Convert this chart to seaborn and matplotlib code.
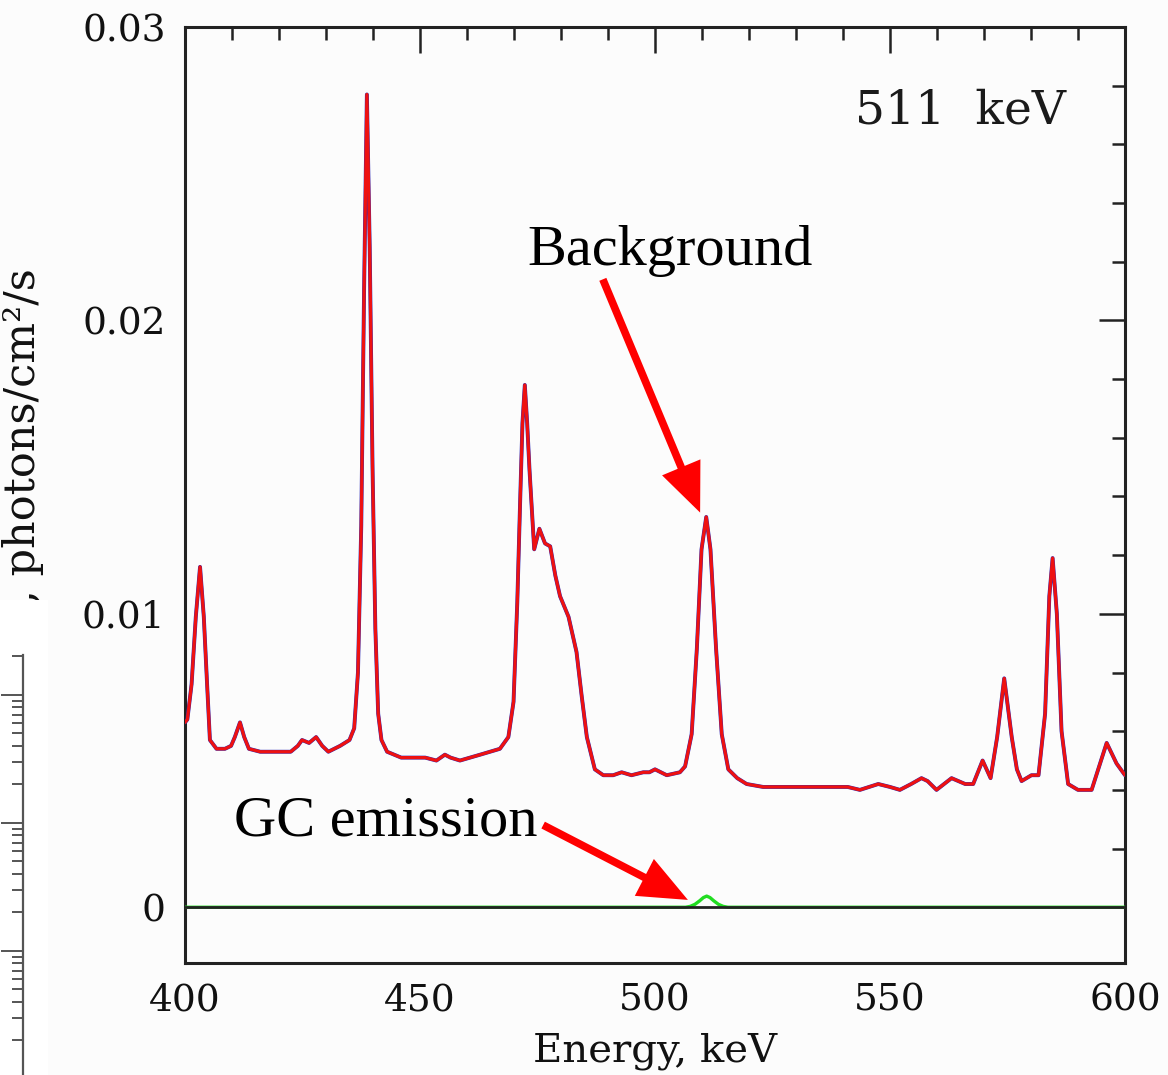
import numpy as np
import pandas as pd
import matplotlib
matplotlib.use("Agg")
import matplotlib.pyplot as plt
import seaborn as sns
from matplotlib.ticker import MultipleLocator, NullFormatter
from matplotlib.patches import Rectangle

# Spectrum (energy in keV, flux in photons/cm2/s)
energy = [400.0, 400.5, 401.4, 402.3, 403.2, 404.0, 404.7, 405.3, 406.7, 408.5,
          409.8, 410.6, 411.7, 412.6, 413.6, 416.0, 420.0, 422.5, 424.0, 424.9,
          426.4, 427.9, 429.2, 430.5, 433.0, 435.0, 436.0, 436.8, 437.5, 438.1,
          438.7, 439.3, 439.9, 440.5, 441.1, 441.8, 443.0, 446.0, 448.6, 451.1,
          453.5, 455.3, 456.5, 458.5, 462.8, 467.0, 468.8, 469.9, 470.7, 471.3,
          471.8, 472.3, 472.8, 473.3, 474.3, 475.4, 476.6, 477.7, 478.8, 479.8,
          481.6, 483.3, 484.4, 485.5, 487.2, 489.0, 491.1, 492.9, 495.0, 497.5,
          498.8, 500.0, 502.5, 505.3, 506.4, 507.8, 508.9, 509.9, 510.9, 511.8,
          513.0, 514.2, 515.6, 517.5, 519.5, 523.0, 527.0, 531.6, 535.0, 538.6,
          541.0, 543.6, 547.5, 550.0, 552.1, 554.5, 556.7, 558.0, 559.9, 563.1,
          566.0, 567.7, 569.7, 571.4, 572.8, 574.3, 575.9, 577.0, 578.0, 580.1,
          581.6, 583.0, 583.9, 584.6, 585.5, 586.5, 587.9, 590.0, 592.9, 594.3,
          596.1, 598.2, 600.0]
background = [0.0063, 0.0064, 0.0076, 0.0099, 0.0116, 0.0099, 0.0076, 0.0057, 0.0054, 0.0054,
              0.0055, 0.0058, 0.0063, 0.0058, 0.0054, 0.0053, 0.0053, 0.0053, 0.0055, 0.0057,
              0.0056, 0.0058, 0.0055, 0.0053, 0.0055, 0.0057, 0.0061, 0.0080, 0.0130, 0.0210,
              0.0277, 0.0225, 0.0150, 0.0095, 0.0066, 0.0057, 0.0053, 0.0051, 0.0051, 0.0051,
              0.0050, 0.0052, 0.0051, 0.0050, 0.0052, 0.0054, 0.0058, 0.0070, 0.0104, 0.0138,
              0.0165, 0.0178, 0.0165, 0.0149, 0.0122, 0.0129, 0.0124, 0.0123, 0.0113, 0.0106,
              0.0099, 0.0087, 0.0072, 0.0058, 0.0047, 0.0045, 0.0045, 0.0046, 0.0045, 0.0046,
              0.0046, 0.0047, 0.0045, 0.0046, 0.0048, 0.0059, 0.0088, 0.0122, 0.0133, 0.0122,
              0.0088, 0.0059, 0.0047, 0.0044, 0.0042, 0.0041, 0.0041, 0.0041, 0.0041, 0.0041,
              0.0041, 0.0040, 0.0042, 0.0041, 0.0040, 0.0042, 0.0044, 0.0043, 0.0040, 0.0044,
              0.0042, 0.0042, 0.0050, 0.0044, 0.0058, 0.0078, 0.0058, 0.0047, 0.0043, 0.0045,
              0.0045, 0.0066, 0.0106, 0.0119, 0.0100, 0.0060, 0.0042, 0.0040, 0.0040, 0.0047,
              0.0056, 0.0049, 0.0045]

# GC emission line (green)
gc_energy = [400.0, 506.5, 507.5, 508.5, 509.5, 510.3, 511.0, 511.7, 512.5, 513.5, 514.5, 515.5, 600.0]
gc_flux = [0.0, 0.0, 0.00003, 0.0001, 0.00022, 0.00033, 0.00038, 0.00033, 0.00022, 0.0001, 0.00003, 0.0, 0.0]

df = pd.DataFrame({'Energy': energy, 'Flux': background})
gc = pd.DataFrame({'Energy': gc_energy, 'Flux': gc_flux})

sns.set_theme(style="white")
plt.rcParams['font.family'] = ['DejaVu Serif']

fig = plt.figure(figsize=(11.68, 10.75), dpi=100, facecolor='#fcfcfc')
ax = fig.add_axes([185 / 1168, 1 - 963 / 1075, 940 / 1168, 936 / 1075])
ax.set_facecolor('#fcfcfc')

sns.lineplot(data=df, x='Energy', y='Flux', ax=ax, color='#2b2bb5', lw=2.8, zorder=3)
line_kw = dict(solid_joinstyle='round', solid_capstyle='round')
sns.lineplot(data=df, x='Energy', y='Flux', ax=ax, color='#ee1111', lw=2.3, zorder=4, **line_kw)
sns.lineplot(data=gc, x='Energy', y='Flux', ax=ax, color='#22dd22', lw=2.4, zorder=5)
ax.axhline(0, color='#222222', lw=2, zorder=6)

ax.set_xlim(400, 600)
ax.set_ylim(-0.0019, 0.03)
ax.set_xticks([400, 450, 500, 550, 600])
ax.set_xticklabels(['400', '450', '500', '550', '600'])
ax.set_yticks([0, 0.01, 0.02, 0.03])
ax.set_yticklabels(['0', '0.01', '0.02', '0.03'])
ax.xaxis.set_minor_locator(MultipleLocator(10))
ax.yaxis.set_minor_locator(MultipleLocator(0.002))
ax.tick_params(which='both', direction='in', top=True, right=True, colors='#222222',
               labelsize=27, labelcolor='#111111')
ax.tick_params(which='major', length=19, width=1.8)
ax.tick_params(which='minor', length=9.5, width=1.8)
ax.tick_params(axis='y', pad=14)
ax.tick_params(axis='x', pad=14)
for s in ax.spines.values():
    s.set_linewidth(2.2)
    s.set_color('#222222')

ax.set_xlabel('Energy, keV', fontsize=29, color='#111111', labelpad=10)
ax.set_ylabel('Flux, photons/cm²/s', fontsize=31, color='#111111', loc='top')
ax.yaxis.set_label_coords(-0.150, 0.742)

ax.text(587.5, 0.0267, '511  keV', fontsize=34, ha='right', va='baseline', color='#1a1a1a')

# annotations
ann_font = ['Liberation Serif', 'DejaVu Serif']
ax.text(503.2, 0.0219, 'Background', fontsize=42, family=ann_font, ha='center', va='baseline', color='black')
ax.text(442.8, 0.00245, 'GC emission', fontsize=42, family=ann_font, ha='center', va='baseline', color='black')
arrow = dict(arrowstyle='-|>,head_length=0.85,head_width=0.36', color='#ff0000', lw=5.5,
             shrinkA=0, shrinkB=0, mutation_scale=30, joinstyle='miter', capstyle='butt')
ax.annotate('', xy=(509.6, 0.01345), xytext=(488.9, 0.0214), arrowprops=arrow, zorder=7)
ax.annotate('', xy=(507.0, 0.00025), xytext=(476.2, 0.0028), arrowprops=arrow, zorder=7)

# pasted fragment of another panel at the left edge
fig.patches.append(Rectangle((0, 0), 48 / 1168, 475 / 1075, transform=fig.transFigure,
                             facecolor='white', edgecolor='none', zorder=1))
frag = fig.add_axes([0, 0, 23 / 1168, 420 / 1075], zorder=2)
frag.set_facecolor('white')
frag.set_yscale('log')
frag.set_ylim(0.1074, 205)
frag.set_xticks([])
for side in ['left', 'top', 'bottom']:
    frag.spines[side].set_visible(False)
frag.spines['right'].set_linewidth(1.6)
frag.spines['right'].set_color('#555555')
frag.yaxis.tick_right()
frag.tick_params(axis='y', which='both', direction='in', colors='#555555', width=1.4)
frag.tick_params(axis='y', which='major', length=16)
frag.tick_params(axis='y', which='minor', length=8)
frag.yaxis.set_major_formatter(NullFormatter())
frag.yaxis.set_minor_formatter(NullFormatter())

fig.savefig('out.png', dpi=100, facecolor=fig.get_facecolor())
